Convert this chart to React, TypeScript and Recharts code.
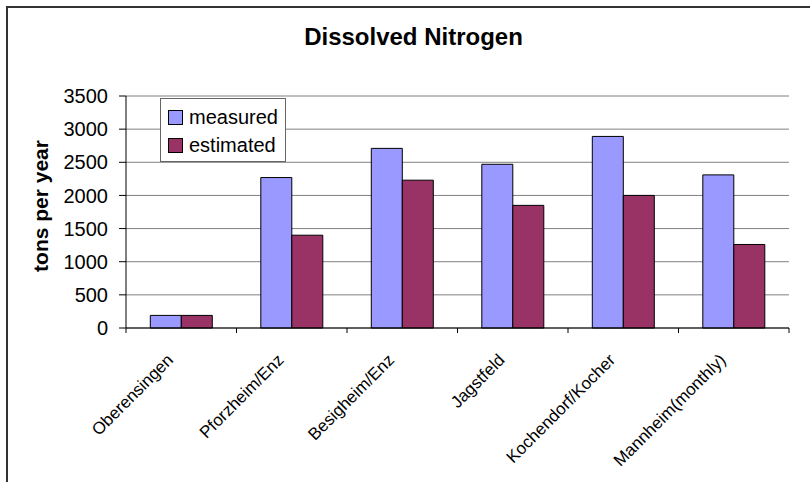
import { BarChart, Bar, XAxis, YAxis, CartesianGrid } from "recharts";

const stations = [
  "Oberensingen",
  "Pforzheim/Enz",
  "Besigheim/Enz",
  "Jagstfeld",
  "Kochendorf/Kocher",
  "Mannheim(monthly)",
];
const measured = [190, 2270, 2710, 2470, 2890, 2310];
const estimated = [190, 1400, 2230, 1850, 2000, 1260];
const yTicks = [0, 500, 1000, 1500, 2000, 2500, 3000, 3500];

const data = stations.map((name, i) => ({
  name,
  measured: measured[i],
  estimated: estimated[i],
}));

const FONT = "'Liberation Sans', Arial, sans-serif";
const MEASURED = "#9999FF";
const ESTIMATED = "#993366";

// label plus the tick marks that sit on the category boundaries
function StationTick(props: any) {
  const { x, y, payload, index } = props;
  const half = payload?.offset || 55.25;
  const ax = x - 7;
  const ay = y + 33;
  return (
    <g>
      <line x1={x - half} x2={x - half} y1={y} y2={y + 5} stroke="#000" />
      {index === stations.length - 1 && (
        <line x1={x + half} x2={x + half} y1={y} y2={y + 5} stroke="#000" />
      )}
      <text
        x={ax}
        y={ay}
        transform={`rotate(-45, ${ax}, ${ay})`}
        textAnchor="end"
        fontSize={17}
        fontFamily={FONT}
        fill="#000"
      >
        {payload.value}
      </text>
    </g>
  );
}

function LegendBox() {
  const items = [
    { label: "measured", color: MEASURED },
    { label: "estimated", color: ESTIMATED },
  ];
  return (
    <div
      style={{
        position: "absolute",
        left: 160,
        top: 98,
        width: 126,
        height: 64,
        boxSizing: "border-box",
        border: "1px solid #666",
        background: "#fff",
        fontFamily: FONT,
        fontSize: 20,
        paddingTop: 4,
        paddingLeft: 7,
      }}
    >
      {items.map((it) => (
        <div
          key={it.label}
          style={{ display: "flex", alignItems: "center", height: 28, lineHeight: "28px" }}
        >
          <span
            style={{
              display: "inline-block",
              width: 13,
              height: 13,
              background: it.color,
              border: "1px solid #000",
              marginRight: 6,
            }}
          />
          <span>{it.label}</span>
        </div>
      ))}
    </div>
  );
}

export default function App() {
  return (
    <div
      style={{
        position: "absolute",
        left: 0,
        top: 0,
        width: 810,
        height: 482,
        overflow: "hidden",
        background: "#fff",
      }}
    >
      {/* frame: only top and left edges show in the picture */}
      <div
        style={{
          position: "absolute",
          left: 6,
          top: 6,
          width: 900,
          height: 600,
          borderLeft: "2px solid #333",
          borderTop: "2px solid #333",
        }}
      />
      <div
        style={{
          position: "absolute",
          left: 0,
          top: 25,
          width: 827,
          textAlign: "center",
          fontFamily: FONT,
          fontWeight: "bold",
          fontSize: 24,
          lineHeight: "24px",
        }}
      >
        Dissolved Nitrogen
      </div>
      <div
        style={{
          position: "absolute",
          left: 40,
          top: 206,
          transform: "translate(-50%, -50%) rotate(-90deg)",
          whiteSpace: "nowrap",
          fontFamily: FONT,
          fontWeight: "bold",
          fontSize: 21,
          lineHeight: "21px",
        }}
      >
        tons per year
      </div>
      <BarChart
        width={810}
        height={482}
        data={data}
        margin={{ top: 96, right: 21, left: 66, bottom: 0 }}
        barCategoryGap="22%"
        barGap={0}
        style={{ position: "absolute", left: 0, top: 0 }}
      >
        <CartesianGrid horizontal vertical={false} stroke="#808080" strokeWidth={1} />
        <XAxis
          dataKey="name"
          height={154}
          tickLine={false}
          tickSize={0}
          tickMargin={0}
          axisLine={{ stroke: "#000" }}
          interval={0}
          tick={<StationTick />}
        />
        <YAxis
          domain={[0, 3500]}
          ticks={yTicks}
          interval={0}
          width={60}
          tickSize={7}
          tickMargin={11}
          tickLine={{ stroke: "#000" }}
          axisLine={{ stroke: "#000" }}
          tick={{ fill: "#000", fontSize: 20, fontFamily: FONT }}
        />
        <YAxis
          yAxisId="right"
          orientation="right"
          domain={[0, 3500]}
          width={0}
          tick={false}
          tickLine={false}
          axisLine={{ stroke: "#808080" }}
        />
        <Bar
          dataKey="measured"
          fill={MEASURED}
          stroke="#000"
          strokeWidth={1}
          isAnimationActive={false}
        />
        <Bar
          dataKey="estimated"
          fill={ESTIMATED}
          stroke="#000"
          strokeWidth={1}
          isAnimationActive={false}
        />
      </BarChart>
      <LegendBox />
    </div>
  );
}
